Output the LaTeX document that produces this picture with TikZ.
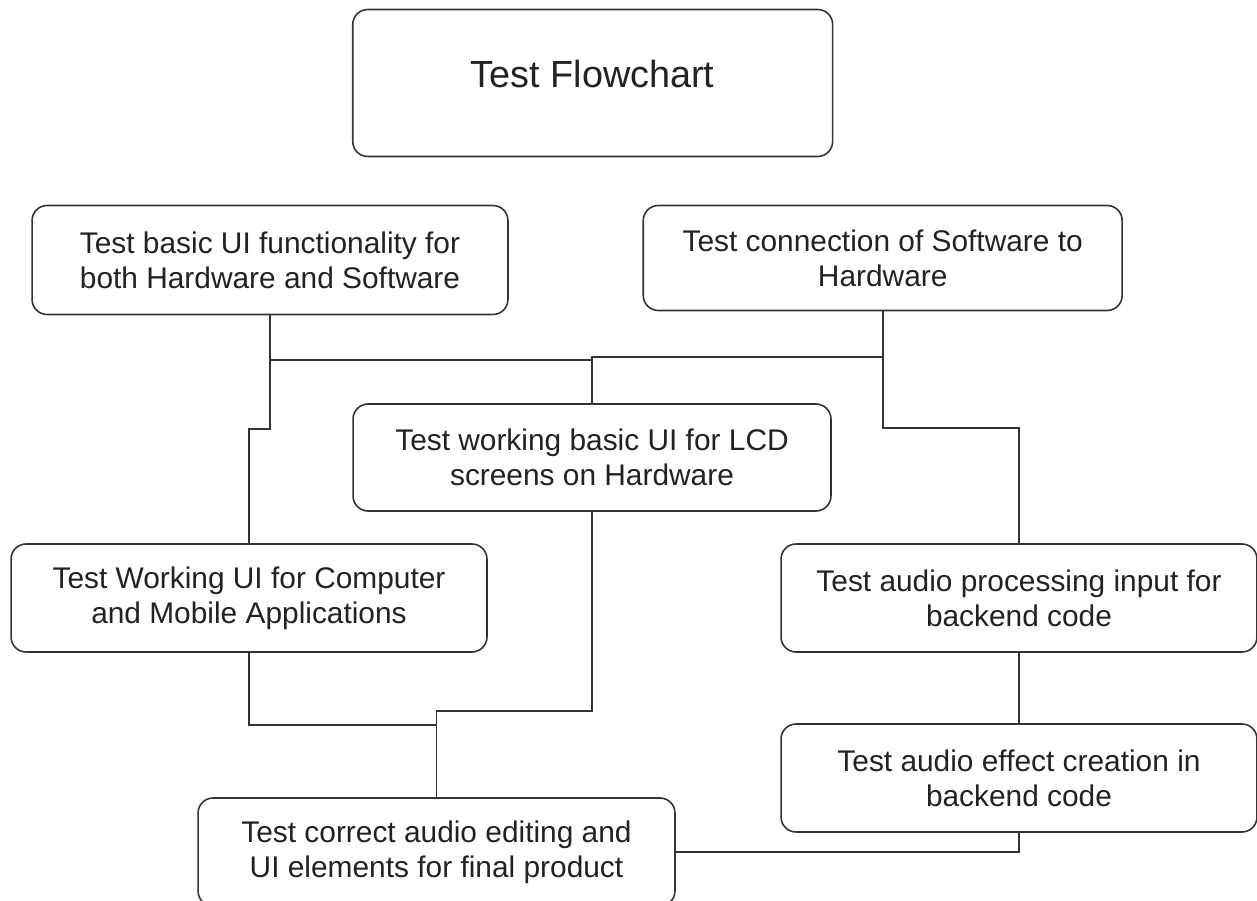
\documentclass[tikz,border=0pt]{standalone}
\usepackage{fontspec}
\setmainfont{Liberation Sans}
\usetikzlibrary{calc, positioning}

\definecolor{edge}{HTML}{333333}
\definecolor{txt}{HTML}{222222}

\tikzset{
  testbox/.style={draw=edge, line width=0.9pt, rounded corners=0.3cm, align=center,
    inner sep=0pt, text=txt, font=\fontsize{17}{19.8}\selectfont,
    minimum width=9.52cm, minimum height=2.16cm},
  link/.style={draw=edge, line width=0.9pt}
}

\begin{document}
\begin{tikzpicture}[x=0.02cm, y=-0.02cm]
\def\rowa{260}
\def\rowc{457.5}
\def\rowd{598}
\useasboundingbox (0,0) rectangle (1257,901);

\node[testbox, minimum width=9.6cm, minimum height=2.94cm, text depth=11pt,
  font=\fontsize{21.5}{25}\selectfont] (title) at (592.7,83) {Test Flowchart};

\node[testbox, minimum height=2.18cm] (basicui) at (270,\rowa) {Test basic UI functionality for\\both Hardware and Software};
\node[testbox, minimum width=9.58cm, minimum height=2.1cm] (connect) at (882.7,258) {Test connection of Software to\\Hardware};
\node[testbox, minimum width=9.56cm, minimum height=2.14cm] (lcd) at (592,\rowc) {Test working basic UI for LCD\\screens on Hardware};
\node[testbox] (appui) at (249,\rowd) {Test Working UI for Computer\\and Mobile Applications};
\node[testbox] (audioin) at (1019,\rowd) {Test audio processing input for\\backend code};
\node[testbox] (effect) at (1019,778) {Test audio effect creation in\\backend code};
\node[testbox, minimum width=9.54cm] (final) at (436.5,852) {Test correct audio editing and\\UI elements for final product};

\draw[link] (basicui.south) -- ++(0,45) -| (lcd.north);
\draw[link] (connect.south) -- ++(0,46) -| (lcd.north);
\draw[link] (basicui.south) -- ++(0,114) -| (appui.north);
\draw[link] (connect.south) -- ++(0,117) -| (audioin.north);
\draw[link] (appui.south) -- ++(0,72) -| (final.north);
\draw[link] (lcd.south) -- ++(0,199) -| (final.north);
\draw[link] (audioin.south) -- (effect.north);
\draw[link] (effect.south) |- (final.east);
\end{tikzpicture}
\end{document}
